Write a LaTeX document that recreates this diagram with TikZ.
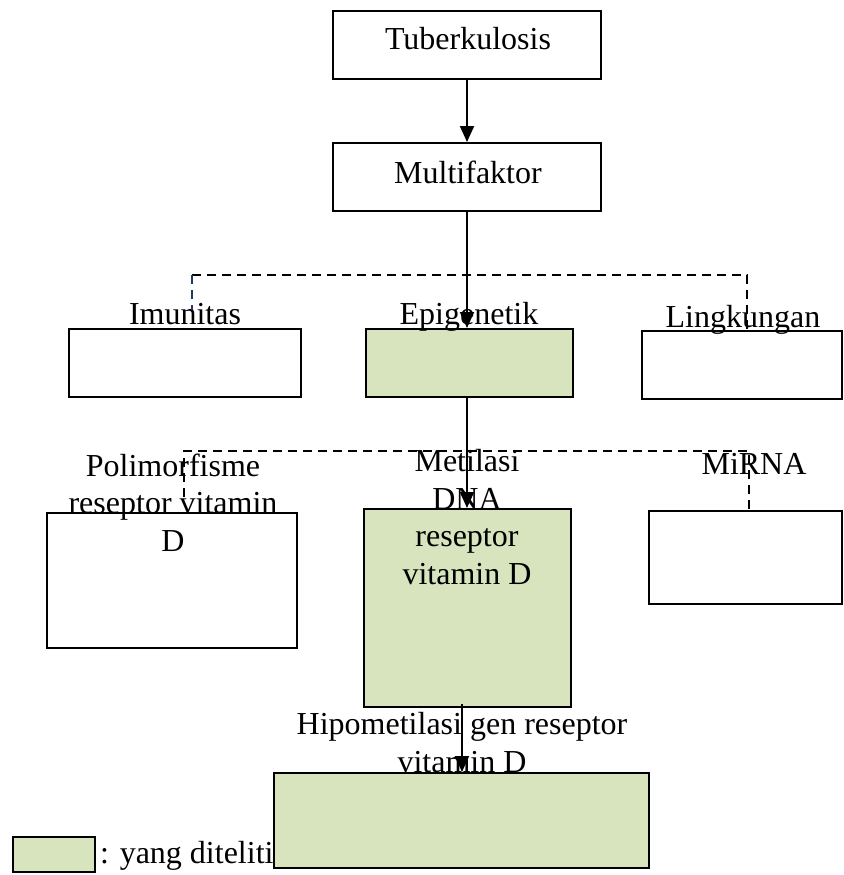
\documentclass[tikz,border=0pt]{standalone}
\usepackage{fontspec}
\setmainfont{Liberation Serif}
\usetikzlibrary{arrows.meta}
\definecolor{sel}{RGB}{215,228,189}
\definecolor{navyline}{RGB}{31,56,100}
\begin{document}
\begin{tikzpicture}[x=1pt,y=-1pt,
  box/.style={draw, line width=2pt, inner sep=0pt},
  boxsel/.style={box, fill=sel},
  txt/.style={font=\fontsize{32}{37.5}\selectfont, inner sep=0pt, anchor=base, align=center},
  arr/.style={line width=2pt, -{Triangle[length=16pt,width=14pt]}},
  dsh/.style={line width=1.6pt, dash pattern=on 9pt off 6pt}]
\useasboundingbox (0,0) rectangle (843,875);
% boxes
\node[box, minimum width=268pt, minimum height=68pt] (tb) at (467,45) {};
\node[box, minimum width=268pt, minimum height=68pt] (mf) at (467,177) {};
\node[box, minimum width=232pt, minimum height=68pt] (im) at (185,363) {};
\node[boxsel, minimum width=207pt, minimum height=68pt] (ep) at (469.5,363) {};
\node[box, minimum width=200pt, minimum height=68pt] (lk) at (742,365) {};
\node[box, minimum width=250pt, minimum height=135pt] (pm) at (172,580.5) {};
\node[boxsel, minimum width=207pt, minimum height=198pt] (mt) at (467.5,608) {};
\node[box, minimum width=193pt, minimum height=93pt] (mi) at (745.5,557.5) {};
\node[boxsel, minimum width=82pt, minimum height=35pt] (lg) at (54,854.5) {};
% texts
\node[txt] (tbt) at (468,49) {Tuberkulosis};
\node[txt] (mft) at (468,183) {Multifaktor};
\node[txt] (imt) at (185,324) {Imunitas};
\node[txt] (ept) at (469,324) {Epigenetik};
\node[txt] (lkt) at (743,327) {Lingkungan};
\node[txt] (pmt) at (173,551) {Polimorfisme\\reseptor vitamin\\D};
\node[txt] (mtt) at (467,584) {Metilasi\\DNA\\reseptor\\vitamin D};
\node[txt] (mit) at (754,474) {MiRNA};
\node[txt] (hpt) at (462,772) {Hipometilasi gen reseptor\\vitamin D};
\node[txt, anchor=base west] (lgt) at (100,863) {: yang diteliti};
% bottom box drawn over the legend text
\node[boxsel, minimum width=375pt, minimum height=95pt] (hp) at (461.5,820.5) {};
% connectors
\draw[arr] (tb.south) -- (mf.north);
\draw[arr] (mf.south) -- (mf.south |- ep.north);
\draw[arr] (ep.south -| mf.south) -- (mf.south |- mt.north);
\draw[arr] (462,704) coordinate (mtb) -- (mtb |- hp.north);
% dashed branches
\coordinate (a1) at (192,275);
\coordinate (a2) at (747,275);
\draw[dsh] (a1) -- (a2) -- (a2 |- lk.north);
\draw[dsh, navyline] (a1) -- (192,310);
\coordinate (b1) at (184,451);
\coordinate (b2) at (749,451);
\draw[dsh] (184,497) -- (b1) -- (b2) -- (b2 |- mi.north);
\end{tikzpicture}
\end{document}
